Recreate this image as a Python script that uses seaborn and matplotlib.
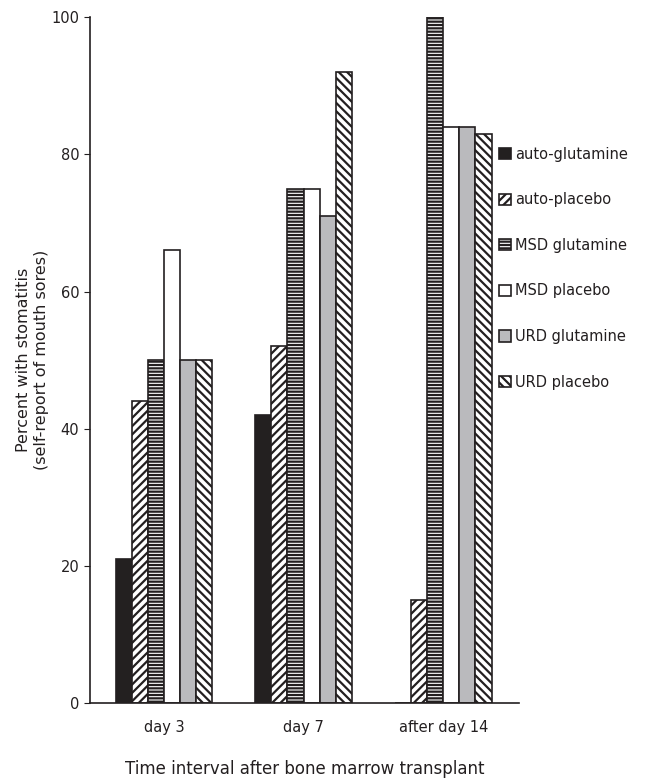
import pandas as pd
import matplotlib
matplotlib.use("Agg")
import matplotlib.pyplot as plt
import seaborn as sns

intervals = ["day 3", "day 7", "after day 14"]
groups = ["auto-glutamine", "auto-placebo", "MSD glutamine",
          "MSD placebo", "URD glutamine", "URD placebo"]
auto_glutamine = [21, 42, 0]
auto_placebo = [44, 52, 15]
msd_glutamine = [50, 75, 100]
msd_placebo = [66, 75, 84]
urd_glutamine = [50, 71, 84]
urd_placebo = [50, 92, 83]

series = [auto_glutamine, auto_placebo, msd_glutamine,
          msd_placebo, urd_glutamine, urd_placebo]
rows = []
for g, vals in zip(groups, series):
    for t, v in zip(intervals, vals):
        rows.append({"Interval": t, "Group": g, "Percent": v})
df = pd.DataFrame(rows)

sns.set_style("ticks")
plt.rcParams["font.family"] = ["DejaVu Sans"]
plt.rcParams["hatch.linewidth"] = 1.6
plt.rcParams["text.color"] = "#231f20"
plt.rcParams["axes.labelcolor"] = "#231f20"
plt.rcParams["xtick.color"] = "#231f20"
plt.rcParams["ytick.color"] = "#231f20"

dark = "#231f20"
palette = {"auto-glutamine": dark, "auto-placebo": "white",
           "MSD glutamine": "white", "MSD placebo": "white",
           "URD glutamine": "#b9babe", "URD placebo": "white"}
hatches = {"auto-glutamine": "", "auto-placebo": "////",
           "MSD glutamine": "-----", "MSD placebo": "",
           "URD glutamine": "", "URD placebo": "\\\\\\\\"}

fig = plt.figure(figsize=(6.6, 7.81), dpi=100)
ax = fig.add_axes([0.136, 0.0999, 0.65, 0.878])

sns.barplot(data=df, x="Interval", y="Percent", hue="Group",
            hue_order=groups, order=intervals, palette=palette,
            width=0.69, edgecolor=dark, linewidth=1.2, ax=ax)

for cont, g in zip(ax.containers, groups):
    for bar in cont:
        bar.set_hatch(hatches[g])
        bar.set_edgecolor(dark)

ax.set_ylim(0, 100)
ax.set_xlim(-0.53, 2.54)
ax.set_yticks([0, 20, 40, 60, 80, 100])
ax.tick_params(axis="both", labelsize=10.5, length=4, color=dark)
ax.tick_params(axis="x", length=0, pad=12)
ax.set_ylabel("Percent with stomatitis\n(self-report of mouth sores)",
              fontsize=11.5, labelpad=2)
ax.set_xlabel("Time interval after bone marrow transplant",
              fontsize=12, labelpad=18)
sns.despine(ax=ax)
for s in ["left", "bottom"]:
    ax.spines[s].set_linewidth(1.2)
    ax.spines[s].set_color(dark)

handles = [cont[0] for cont in ax.containers]
ax.legend(handles, groups, loc="upper left", bbox_to_anchor=(0.94, 0.82),
          frameon=False, fontsize=10.5, handlelength=0.8, handleheight=0.8,
          handletextpad=0.3, labelspacing=2.1, borderaxespad=0)

fig.savefig("out.png", dpi=100)
